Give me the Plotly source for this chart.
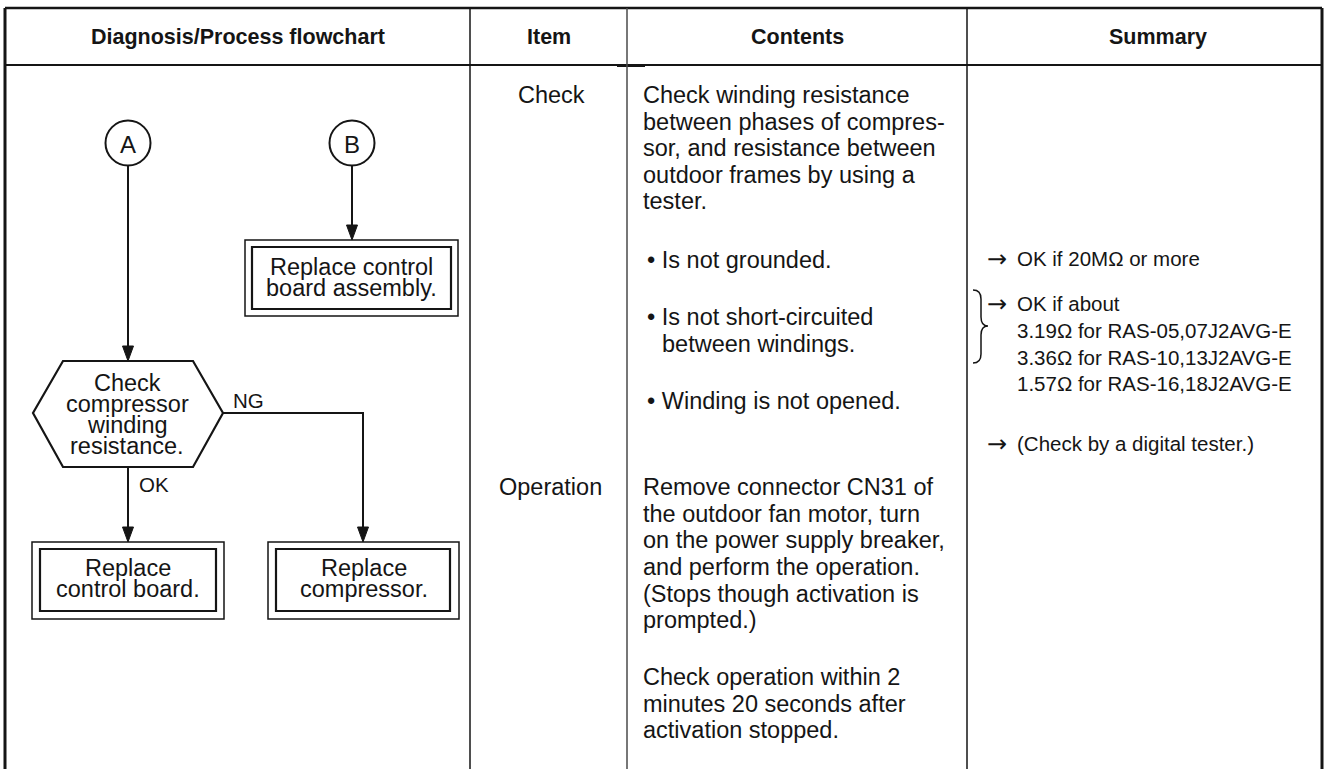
import plotly.graph_objects as go

# ---------------- data (texts) ----------------
header_labels = ["Diagnosis/Process flowchart", "Item", "Contents", "Summary"]
item_labels = ["Check", "Operation"]
contents_lines = [
    "Check winding resistance",
    "between phases of compres-",
    "sor, and resistance between",
    "outdoor frames by using a",
    "tester.",
    "• Is not grounded.",
    "• Is not short-circuited",
    "between windings.",
    "• Winding is not opened.",
    "Remove connector CN31 of",
    "the outdoor fan motor, turn",
    "on the power supply breaker,",
    "and perform the operation.",
    "(Stops though activation is",
    "prompted.)",
    "Check operation within 2",
    "minutes 20 seconds after",
    "activation stopped.",
]
summary_arrow = "→"
summary_lines = [
    "OK if 20MΩ or more",
    "OK if about",
    "3.19Ω for RAS-05,07J2AVG-E",
    "3.36Ω for RAS-10,13J2AVG-E",
    "1.57Ω for RAS-16,18J2AVG-E",
    "(Check by a digital tester.)",
]
summary_has_arrow = [True, True, False, False, False, True]
connector_labels = ["A", "B"]
decision_lines = ["Check", "compressor", "winding", "resistance."]
branch_labels = ["NG", "OK"]
box_texts = [
    ["Replace control", "board assembly."],
    ["Replace", "control board."],
    ["Replace", "compressor."],
]

# ---------------- layout (positions in pixel space) ----------------
W, H = 1327, 769
FONT = "Liberation Sans, Arial, sans-serif"
INK = "#151515"

col_x = [5, 470, 627, 967, 1322]
top_y, head_y = 8, 65

header_pos = [(237.5, 37), (548.5, 37), (797, 37), (1158, 37)]
item_pos = [(551, 95), (550.5, 487)]
contents_pos = [(641, 95), (641, 121.5), (641, 148), (641, 174.5), (641, 201),
                (645, 260), (645, 317), (660, 343.5), (645, 401),
                (641, 487), (641, 513.5), (641, 540), (641, 567), (641, 593.5),
                (641, 620), (641, 677), (641, 703.5), (641, 730)]
summary_pos = [(1015, 258.5), (1015, 303.5), (1015, 330), (1015, 357),
               (1015, 383.5), (1015, 443.5)]
summary_arrow_x = 985
circle_pos = [(128, 143), (352, 143)]
circle_r = 22.5
decision_pos = [(127, 383), (127, 404), (127, 425), (127, 446)]
branch_pos = [(231, 400), (137, 484)]
box_outer = [(245, 240, 458, 316), (32, 542, 224, 619), (268, 542, 459, 619)]
box_inner = [(252, 247, 451, 309), (40, 549, 216, 611), (276, 549, 450, 611)]
box_line_y = [(267, 288), (568, 589), (568, 589)]

fig = go.Figure()
shapes = []
annotations = []


def line(x0, y0, x1, y1, w=1.5, color=INK):
    shapes.append(dict(type="line", x0=x0, y0=y0, x1=x1, y1=y1, xref="x", yref="y",
                       line=dict(color=color, width=w)))


def text(x, y, s, size=23.5, anchor="left", bold=False, family=FONT):
    annotations.append(dict(x=x, y=y, xref="x", yref="y", text=("<b>%s</b>" % s) if bold else s,
                            showarrow=False, xanchor=anchor, yanchor="middle",
                            font=dict(family=family, size=size, color=INK)))


def arrow_head(x, y_tip, length=15, half=5.5):
    shapes.append(dict(type="path", xref="x", yref="y",
                       path=f"M {x - half},{y_tip - length} L {x + half},{y_tip - length} L {x},{y_tip} Z",
                       fillcolor=INK, line=dict(color=INK, width=1)))


# table frame
line(col_x[0], top_y, col_x[-1], top_y, w=2.5)
line(col_x[0], head_y, col_x[-1], head_y, w=2)
line(617, head_y + 0.5, 645, head_y + 0.5, w=3)
line(col_x[0], top_y, col_x[0], H, w=3)
line(col_x[-1], top_y, col_x[-1], H, w=3)
line(col_x[1], top_y, col_x[1], H, w=1.5)
line(col_x[2], top_y, col_x[2], H, w=1.5, color="#4a4a4a")
line(col_x[3], top_y, col_x[3], H, w=1.5)

# headers
for lab, (x, y) in zip(header_labels, header_pos):
    text(x, y, lab, size=21.5, anchor="center", bold=True)

# items
for lab, (x, y) in zip(item_labels, item_pos):
    text(x, y, lab, size=23.5, anchor="center")

# contents
for lab, (x, y) in zip(contents_lines, contents_pos):
    text(x, y, lab, size=23.5)

# summary
for lab, has_arrow, (x, y) in zip(summary_lines, summary_has_arrow, summary_pos):
    if has_arrow:
        text(summary_arrow_x, y, summary_arrow, size=24, family="DejaVu Sans, sans-serif")
    text(x, y, lab, size=20.5)

# brace in summary
shapes.append(dict(type="path", xref="x", yref="y",
                   path="M 973,290 Q 981,290 981,299 L 981,317 Q 981,326 988,326 "
                        "Q 981,326 981,335 L 981,354 Q 981,363 973,363",
                   line=dict(color=INK, width=1.5)))

# connectors A / B
for lab, (cx, cy) in zip(connector_labels, circle_pos):
    shapes.append(dict(type="circle", xref="x", yref="y",
                       x0=cx - circle_r, x1=cx + circle_r, y0=cy - circle_r, y1=cy + circle_r,
                       line=dict(color=INK, width=2), fillcolor="white"))
    text(cx, cy + 1, lab, size=24, anchor="center")

# arrows
line(128, circle_pos[0][1] + circle_r, 128, 347, w=2)
arrow_head(128, 361)
line(352, circle_pos[1][1] + circle_r, 352, 226, w=2)
arrow_head(352, 240)
line(128, 467, 128, 528, w=2)
arrow_head(128, 542)
shapes.append(dict(type="path", xref="x", yref="y", path="M 223,413 L 363,413 L 363,528",
                   line=dict(color=INK, width=2)))
arrow_head(363, 542)

# decision hexagon
shapes.append(dict(type="path", xref="x", yref="y",
                   path="M 63,361 L 193,361 L 223,413 L 193,467 L 63,467 L 33,413 Z",
                   line=dict(color=INK, width=2.2), fillcolor="white"))
for lab, (x, y) in zip(decision_lines, decision_pos):
    text(x, y, lab, size=23.5, anchor="center")

for lab, (x, y) in zip(branch_labels, branch_pos):
    text(x, y, lab, size=20.5)

# double-bordered boxes
for (o, i, ys, lines_) in zip(box_outer, box_inner, box_line_y, box_texts):
    shapes.append(dict(type="rect", xref="x", yref="y", x0=o[0], y0=o[1], x1=o[2], y1=o[3],
                       line=dict(color=INK, width=1.5), fillcolor="white"))
    shapes.append(dict(type="rect", xref="x", yref="y", x0=i[0], y0=i[1], x1=i[2], y1=i[3],
                       line=dict(color=INK, width=2.2)))
    cx = (o[0] + o[2]) / 2
    for s, y in zip(lines_, ys):
        text(cx, y, s, size=23.5, anchor="center")

fig.update_layout(
    width=W, height=H,
    margin=dict(l=0, r=0, t=0, b=0),
    paper_bgcolor="white", plot_bgcolor="white",
    xaxis=dict(range=[0, W], visible=False, fixedrange=True),
    yaxis=dict(range=[H, 0], visible=False, fixedrange=True),
    shapes=shapes, annotations=annotations, showlegend=False,
)

fig.write_html(
    "out.html",
    config={"displayModeBar": False},
    post_script="document.body.style.margin='0';document.body.style.overflow='hidden';",
)
